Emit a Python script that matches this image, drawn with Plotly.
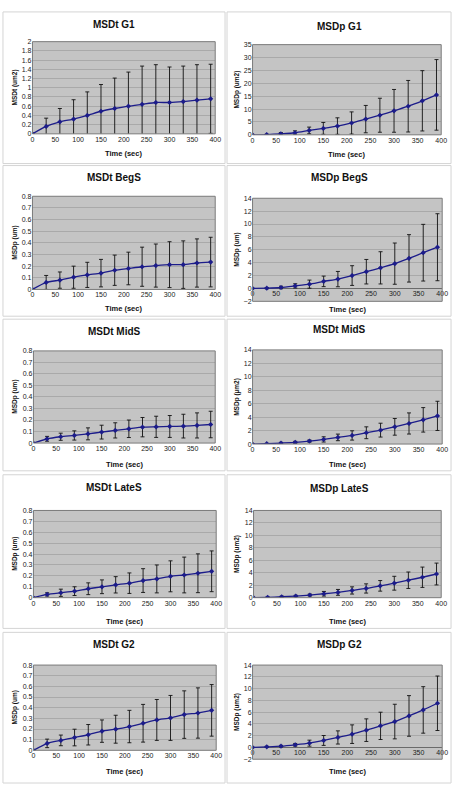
import plotly.graph_objects as go

W, H = 459, 788

time_sec = [0, 30, 60, 90, 120, 150, 180, 210, 240, 270, 300, 330, 360, 390]

titles = ["MSDt G1", "MSDp G1", "MSDt BegS", "MSDp BegS", "MSDt MidS",
          "MSDt MidS", "MSDt LateS", "MSDp LateS", "MSDt G2", "MSDp G2"]
y_titles = ["MSDt (um2)", "MSDp (um2)", "MSDp (um)", "MSDp (um)", "MSDp (um)",
            "MSDp (µm2)", "MSDp (um)", "MSDp (um2)", "MSDp (um)", "MSDp (um2)"]
x_title = "Time (sec)"

g1_t_mean = [0, 0.16, 0.26, 0.32, 0.40, 0.49, 0.55, 0.60, 0.64, 0.68, 0.68, 0.70, 0.73, 0.76]
g1_t_upper = [0, 0.34, 0.55, 0.74, 0.91, 1.07, 1.21, 1.34, 1.47, 1.50, 1.45, 1.47, 1.50, 1.51]
g1_p_mean = [0, 0.1, 0.4, 0.8, 1.7, 2.5, 3.4, 4.6, 6.1, 7.6, 9.3, 11.1, 13.2, 15.5]
g1_p_upper = [0, 0.2, 0.9, 1.55, 3.0, 4.8, 6.6, 8.9, 11.4, 14.2, 17.6, 21.1, 24.9, 29.2]
begs_t_mean = [0, 0.06, 0.08, 0.105, 0.125, 0.14, 0.165, 0.18, 0.195, 0.205, 0.213, 0.213, 0.227, 0.235]
begs_t_upper = [0, 0.12, 0.15, 0.2, 0.233, 0.258, 0.295, 0.32, 0.363, 0.39, 0.41, 0.417, 0.434, 0.448]
begs_p_mean = [0, 0.05, 0.15, 0.4, 0.67, 1.1, 1.45, 2.0, 2.6, 3.2, 3.85, 4.67, 5.55, 6.4]
begs_p_upper = [0, 0.15, 0.35, 0.73, 1.3, 1.92, 2.64, 3.53, 4.5, 5.7, 7.05, 8.35, 9.95, 11.6]
mids_t_mean = [0, 0.037, 0.055, 0.066, 0.08, 0.095, 0.11, 0.124, 0.138, 0.141, 0.144, 0.147, 0.153, 0.161]
mids_t_upper = [0, 0.058, 0.086, 0.106, 0.132, 0.155, 0.176, 0.2, 0.222, 0.233, 0.239, 0.25, 0.262, 0.276]
mids_p_mean = [0, 0.05, 0.15, 0.25, 0.44, 0.69, 0.99, 1.28, 1.68, 2.07, 2.56, 3.06, 3.6, 4.19]
mids_p_upper = [0, 0.1, 0.25, 0.4, 0.6, 1.08, 1.48, 1.97, 2.56, 3.1, 3.8, 4.63, 5.42, 6.36]
lates_t_mean = [0, 0.03, 0.045, 0.06, 0.082, 0.1, 0.118, 0.133, 0.157, 0.172, 0.196, 0.208, 0.224, 0.242]
lates_t_upper = [0, 0.045, 0.078, 0.1, 0.136, 0.163, 0.193, 0.227, 0.266, 0.3, 0.338, 0.372, 0.402, 0.429]
lates_p_mean = [0, 0.05, 0.15, 0.26, 0.42, 0.63, 0.85, 1.16, 1.48, 1.9, 2.32, 2.8, 3.28, 3.8]
lates_p_upper = [0, 0.1, 0.25, 0.38, 0.58, 1.0, 1.32, 1.74, 2.22, 2.75, 3.43, 4.12, 4.91, 5.55]
g2_t_mean = [0, 0.065, 0.093, 0.12, 0.146, 0.18, 0.198, 0.223, 0.254, 0.285, 0.304, 0.335, 0.35, 0.375]
g2_t_upper = [0, 0.105, 0.143, 0.198, 0.242, 0.285, 0.329, 0.375, 0.431, 0.477, 0.515, 0.558, 0.586, 0.617]
g2_p_mean = [0, 0.1, 0.22, 0.45, 0.73, 1.19, 1.7, 2.26, 2.94, 3.67, 4.4, 5.36, 6.38, 7.51]
g2_p_upper = [0, 0.2, 0.35, 0.68, 1.24, 2.03, 2.82, 3.84, 4.86, 5.99, 7.34, 8.81, 10.33, 12.14]

means = [g1_t_mean, g1_p_mean, begs_t_mean, begs_p_mean, mids_t_mean,
         mids_p_mean, lates_t_mean, lates_p_mean, g2_t_mean, g2_p_mean]
uppers = [g1_t_upper, g1_p_upper, begs_t_upper, begs_p_upper, mids_t_upper,
          mids_p_upper, lates_t_upper, lates_p_upper, g2_t_upper, g2_p_upper]

y_ranges = [(0, 2, 0.2), (0, 35, 5), (0, 0.8, 0.1), (-2, 14, 2), (0, 0.8, 0.1),
            (0, 14, 2), (0, 0.8, 0.1), (0, 14, 2), (0, 0.8, 0.1), (-2, 14, 2)]

# layout in pixels: plot area (x0, x1, y0, y1), title y, x-title y, box rows
plot_px = [(31, 217, 38, 131), (255, 447, 41, 132),
           (31, 217, 194, 288), (255, 448, 196, 300),
           (32, 217, 350, 443), (255, 448, 349, 444),
           (32, 218, 511, 599), (256, 447, 511, 599),
           (32, 218, 667, 753), (255, 448, 667, 762)]
title_y = [21, 23, 175, 175, 330, 328, 488, 489, 646, 646]
xtitle_y = [151, 152, 307, 308, 465, 465, 623, 623, 774, 774]
box_rows = [(8, 161), (163, 315), (318, 471), (475, 630), (634, 786)]
box_cols = [(1, 227), (229, 457)]

def px(v):
    return v / W

def py(v):
    return 1 - v / H

FONT = "Liberation Sans, Arial, sans-serif"
NAVY = "#1c1c8a"

fig = go.Figure()
shapes = []
annotations = []
layout = {}

for r, (ry0, ry1) in enumerate(box_rows):
    for c, (cx0, cx1) in enumerate(box_cols):
        shapes.append(dict(type="rect", xref="paper", yref="paper",
                           x0=px(cx0), x1=px(cx1), y0=py(ry1), y1=py(ry0),
                           line=dict(color="#d4d4d4", width=1),
                           fillcolor="white", layer="below"))

for i in range(10):
    n = i + 1
    xa = "xaxis" if n == 1 else f"xaxis{n}"
    ya = "yaxis" if n == 1 else f"yaxis{n}"
    xr = "x" if n == 1 else f"x{n}"
    yr = "y" if n == 1 else f"y{n}"
    x0, x1, y0, y1 = plot_px[i]
    ymin, ymax, dt = y_ranges[i]
    err = [u - m for u, m in zip(uppers[i], means[i])]

    fig.add_trace(go.Scatter(
        x=time_sec, y=means[i], xaxis=xr, yaxis=yr, mode="lines+markers",
        line=dict(color=NAVY, width=1.3, shape="spline", smoothing=0.5),
        marker=dict(symbol="diamond", size=4, color=NAVY),
        error_y=dict(type="data", array=err, color="#111111",
                     thickness=0.9, width=2),
        showlegend=False, hoverinfo="skip"))

    ydom = [py(y1), py(y0)]
    xaxis = dict(domain=[px(x0), px(x1)], range=[0, 400], dtick=50,
                 showgrid=False, zeroline=False, showline=False,
                 tickfont=dict(family=FONT, size=7, color="#222"),
                 ticks="", fixedrange=True)
    if ymin < 0:
        pos = ydom[0] + (0 - ymin) / (ymax - ymin) * (ydom[1] - ydom[0])
        xaxis.update(anchor="free", position=pos)
    else:
        xaxis.update(anchor=yr)
    layout[xa] = xaxis
    layout[ya] = dict(domain=ydom, range=[ymin, ymax], dtick=dt,
                      showgrid=True, gridcolor="#a9a9a9", gridwidth=1,
                      zeroline=(ymin < 0), zerolinecolor="#6a6a6a", zerolinewidth=1,
                      showline=False, anchor=xr,
                      tickfont=dict(family=FONT, size=7, color="#222"),
                      ticks="", fixedrange=True)

    shapes.append(dict(type="rect", xref="paper", yref="paper",
                       x0=px(x0), x1=px(x1), y0=ydom[0], y1=ydom[1],
                       line=dict(width=0), fillcolor="#c4c4c4", layer="below"))
    shapes.append(dict(type="rect", xref="paper", yref="paper",
                       x0=px(x0), x1=px(x1), y0=ydom[0], y1=ydom[1],
                       line=dict(color="#7a7a7a", width=1), fillcolor="rgba(0,0,0,0)",
                       layer="above"))

    cx0, cx1 = box_cols[i % 2]
    annotations.append(dict(text=f"<b>{titles[i]}</b>", xref="paper", yref="paper",
                            x=px((cx0 + cx1) / 2), y=py(title_y[i]),
                            xanchor="center", yanchor="middle", showarrow=False,
                            font=dict(family=FONT, size=10, color="#111")))
    annotations.append(dict(text=f"<b>{x_title}</b>", xref="paper", yref="paper",
                            x=px((x0 + x1) / 2), y=py(xtitle_y[i]),
                            xanchor="center", yanchor="middle", showarrow=False,
                            font=dict(family=FONT, size=7.5, color="#111")))
    ytx = 13 if i % 2 == 0 else 239
    annotations.append(dict(text=f"<b>{y_titles[i]}</b>", xref="paper", yref="paper",
                            x=px(ytx), y=py((y0 + y1) / 2), textangle=-90,
                            xanchor="center", yanchor="middle", showarrow=False,
                            font=dict(family=FONT, size=6.5, color="#111")))

fig.update_layout(width=W, height=H, autosize=False,
                  margin=dict(l=0, r=0, t=0, b=0, pad=0),
                  paper_bgcolor="white", plot_bgcolor="rgba(0,0,0,0)",
                  shapes=shapes, annotations=annotations, **layout)

fig.write_html("out.html")
